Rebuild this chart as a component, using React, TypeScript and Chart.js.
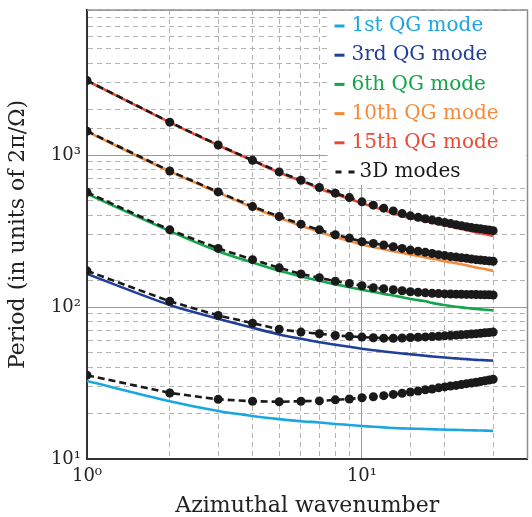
import React, { useEffect, useRef } from "react";
import { Chart, registerables } from "chart.js";

Chart.register(...registerables);

// Azimuthal wavenumber m
const wavenumbers = [1, 2, 3, 4, 5, 6, 7, 8, 9, 10, 11, 12, 13, 14, 15, 16, 17, 18, 19, 20, 21, 22, 23, 24, 25, 26, 27, 28, 29, 30];

// QG mode periods
const qg1 = [32.6, 24.0, 20.7, 19.2, 18.3, 17.7, 17.4, 17.0, 16.75, 16.5, 16.3, 16.15, 16.0, 15.9, 15.85, 15.8, 15.75, 15.7, 15.65, 15.6, 15.57, 15.54, 15.5, 15.47, 15.45, 15.42, 15.4, 15.37, 15.35, 15.3];
const qg3 = [165, 103, 83.7, 73, 66, 61.8, 58.7, 56.5, 54.7, 53.2, 52, 51, 50.2, 49.5, 48.9, 48.3, 47.8, 47.3, 46.9, 46.5, 46.2, 45.9, 45.6, 45.4, 45.1, 44.9, 44.8, 44.6, 44.5, 44.4];
const qg6 = [555, 316, 233, 196, 173, 159, 149, 141, 135, 130, 126, 122, 119, 116, 113, 111, 109, 106.5, 104.5, 103, 101.5, 100.5, 99.5, 98.5, 98, 97, 96.5, 96, 95.5, 95];
const qg10 = [1425, 780, 566, 452, 387, 343, 313, 289, 272, 258, 248, 240, 233, 227, 222, 217, 212, 208, 204, 200, 197, 194, 191, 188, 185, 182, 180, 178, 175, 173];
const qg15 = [3080, 1640, 1160, 918, 768, 676, 603, 552, 514, 482, 456, 434, 414, 397, 385, 376, 368, 359, 352, 345, 338, 332, 326, 320, 315, 310, 306, 302, 298, 294];

// 3D mode periods
const d1 = [35.6, 27.2, 24.7, 24.0, 23.8, 24.0, 24.1, 24.5, 24.8, 25.3, 25.7, 26.1, 26.6, 27.1, 27.6, 28.0, 28.5, 28.9, 29.4, 29.8, 30.2, 30.5, 30.9, 31.3, 31.6, 32.0, 32.3, 32.7, 33.1, 33.5];
const d3 = [173, 109, 88, 78.3, 71.4, 68.4, 66.7, 65, 64.1, 63.4, 62.8, 62.4, 62.3, 62.5, 63, 63.3, 63.6, 63.9, 64.2, 64.6, 64.9, 65.3, 65.6, 66, 66.4, 66.8, 67.2, 67.6, 68, 68.4];
const d6 = [568, 322, 243, 205, 181, 165, 156, 148, 143, 138, 134, 132, 130, 128, 126, 125, 124, 123, 122.5, 122, 121.8, 121.5, 121.3, 121, 121, 120.8, 120.6, 120.4, 120.2, 120];
const d10 = [1436, 785, 572, 458, 394, 351, 322, 299, 284, 269, 262, 256, 249, 243, 237, 233, 229, 225, 221, 218, 215, 213, 211, 209, 207, 205, 204, 202, 201, 200];
const d15 = [3090, 1645, 1164, 923, 774, 683, 611, 561, 525, 492, 468, 447, 429, 412, 398, 389, 381, 373, 366, 360, 354, 348, 343, 338, 333, 330, 327, 324, 321, 318];

const qgLabels = ["1st QG mode", "3rd QG mode", "6th QG mode", "10th QG mode", "15th QG mode"];
const qgColors = ["#1aa7e0", "#1f3f99", "#12a54b", "#f68a3c", "#ec4a34"];
const threeDLabel = "3D modes";

const powerLabels: Record<string, string> = { "1": "10⁰", "10": "10¹", "100": "10²", "1000": "10³" };

const FONT = "'DejaVu Serif', serif";

const isMajor = (v: number) => {
  const l = Math.log10(v);
  return Math.abs(l - Math.round(l)) < 1e-9;
};

const toPoints = (ys: number[]) => wavenumbers.map((m, i) => ({ x: m, y: ys[i] }));

const legendPlugin = {
  id: "customLegend",
  beforeDatasetsDraw(chart: any) {
    const { ctx, chartArea } = chart;
    ctx.save();
    const x0 = chartArea.right - 200;
    ctx.fillStyle = "#ffffff";
    ctx.fillRect(x0, chartArea.top + 1, chartArea.right - x0 - 1, 174);
    ctx.font = `20px ${FONT}`;
    ctx.textBaseline = "middle";
    const rowH = 29.2;
    qgLabels.forEach((lab, i) => {
      const y = chartArea.top + 16 + i * rowH;
      ctx.strokeStyle = qgColors[i];
      ctx.lineWidth = 3;
      ctx.setLineDash([]);
      ctx.beginPath();
      ctx.moveTo(x0 + 7, y);
      ctx.lineTo(x0 + 17, y);
      ctx.stroke();
      ctx.fillStyle = qgColors[i];
      ctx.fillText(lab, x0 + 24, y);
    });
    const y = chartArea.top + 16 + 5 * rowH;
    ctx.strokeStyle = "#1a1a1a";
    ctx.lineWidth = 3;
    ctx.setLineDash([6, 7]);
    ctx.beginPath();
    ctx.moveTo(x0 + 8, y);
    ctx.lineTo(x0 + 27, y);
    ctx.stroke();
    ctx.setLineDash([]);
    ctx.fillStyle = "#1a1a1a";
    ctx.fillText(threeDLabel, x0 + 32, y);
    ctx.restore();
  },
  afterDraw(chart: any) {
    const { ctx, chartArea } = chart;
    ctx.save();
    ctx.strokeStyle = "#8c8c8c";
    ctx.lineWidth = 1.5;
    ctx.beginPath();
    ctx.moveTo(chartArea.left, chartArea.top);
    ctx.lineTo(chartArea.right, chartArea.top);
    ctx.lineTo(chartArea.right, chartArea.bottom);
    ctx.stroke();
    ctx.restore();
  },
};

const zeroPad = (s: any) => {
  s.paddingTop = 0;
  s.paddingBottom = 0;
  s.paddingLeft = 0;
  s.paddingRight = 0;
};

export default function App() {
  const ref = useRef<HTMLCanvasElement | null>(null);

  useEffect(() => {
    if (!ref.current) return;
    const qgSeries = [qg1, qg3, qg6, qg10, qg15];
    const dSeries = [d1, d3, d6, d10, d15];
    const datasets: any[] = [];
    dSeries.forEach((ys, i) => {
      datasets.push({
        label: `${threeDLabel} ${i}`,
        data: toPoints(ys),
        borderColor: "#1a1a1a",
        backgroundColor: "#1a1a1a",
        borderWidth: 2.6,
        borderDash: [7, 4],
        pointRadius: 4.5,
        pointBorderWidth: 0,
        pointBackgroundColor: "#1a1a1a",
        tension: 0,
        order: 0,
      });
    });
    qgSeries.forEach((ys, i) => {
      datasets.push({
        label: qgLabels[i],
        data: toPoints(ys),
        borderColor: qgColors[i],
        backgroundColor: qgColors[i],
        borderWidth: 2.6,
        pointRadius: 0,
        tension: 0.3,
        order: 1,
      });
    });

    const gridColor = (c: any) => (c.tick && isMajor(c.tick.value) ? "#9a9a9a" : "#b3b3b3");
    const gridDash = (c: any) => (c.tick && !isMajor(c.tick.value) ? [5, 4] : []);
    const tickCb = (v: any) => powerLabels[String(v)] ?? "";

    const chart = new Chart(ref.current, {
      type: "line",
      data: { datasets },
      plugins: [legendPlugin],
      options: {
        responsive: false,
        animation: false,
        devicePixelRatio: 1,
        layout: { padding: { top: 10, right: 4, left: 0, bottom: 0 } },
        plugins: { legend: { display: false }, tooltip: { enabled: false } },
        scales: {
          x: {
            type: "logarithmic",
            min: 1,
            max: 40,
            grid: { color: gridColor, lineWidth: 1, drawTicks: false },
            border: { display: true, color: "#333333", width: 2, dash: gridDash },
            ticks: {
              autoSkip: false,
              maxRotation: 0,
              padding: 7,
              color: "#222",
              font: { family: FONT, size: 18 },
              callback: tickCb,
            },
            title: {
              display: true,
              text: "Azimuthal wavenumber",
              color: "#222",
              font: { family: FONT, size: 22, lineHeight: 1 },
              padding: { top: 0, bottom: 0 },
            },
            afterFit: (s: any) => {
              s.height = 58;
              zeroPad(s);
            },
          },
          y: {
            type: "logarithmic",
            min: 10,
            max: 9000,
            grid: { color: gridColor, lineWidth: 1, drawTicks: false },
            border: { display: true, color: "#333333", width: 2, dash: gridDash },
            ticks: {
              autoSkip: false,
              padding: 6,
              color: "#222",
              font: { family: FONT, size: 18 },
              callback: tickCb,
            },
            title: {
              display: true,
              text: "Period (in units of 2π/Ω)",
              color: "#222",
              font: { family: FONT, size: 22, lineHeight: 1 },
              padding: { top: 7, bottom: 0 },
            },
            afterFit: (s: any) => {
              s.width = 87;
              zeroPad(s);
            },
          },
        },
      },
    } as any);
    return () => chart.destroy();
  }, []);

  return (
    <div style={{ position: "absolute", left: 0, top: 0, width: 532, height: 517, background: "#fff" }}>
      <canvas ref={ref} width={532} height={517} />
    </div>
  );
}
